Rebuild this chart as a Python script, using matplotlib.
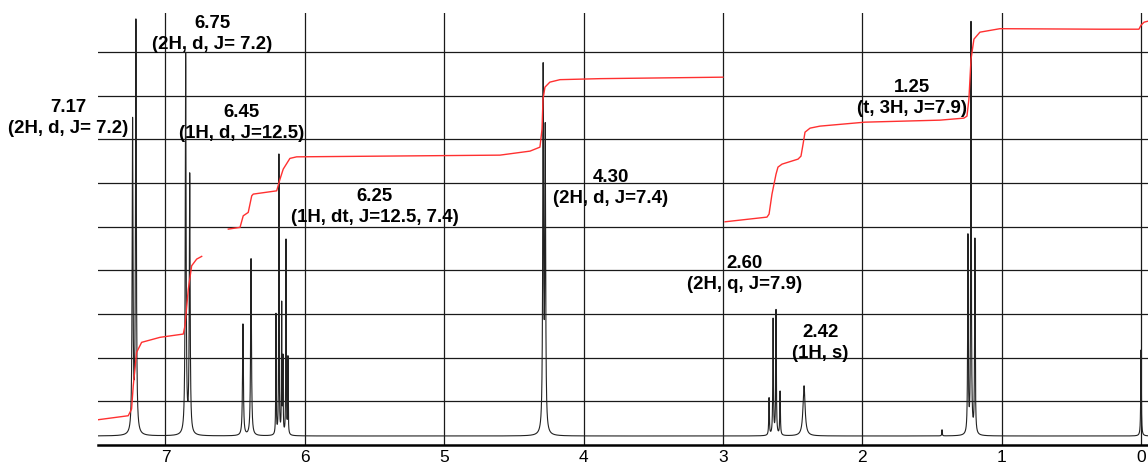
import numpy as np
import matplotlib
matplotlib.use('Agg')
import matplotlib.pyplot as plt

plt.rcParams['font.family'] = ['Liberation Sans', 'DejaVu Sans']

# peak list: shift (ppm), height (grid units), half width (ppm)
peak_ppm = [7.236, 7.212, 6.855, 6.826, 6.444, 6.386,
            6.207, 6.186, 6.166, 6.157, 6.135, 6.121,
            4.290, 4.275, 2.669, 2.640, 2.619, 2.590,
            2.418, 1.428, 1.242, 1.220, 1.192, 0.000]
peak_height = [7.1, 9.4, 8.7, 5.9, 2.55, 4.05,
               2.75, 6.4, 2.95, 1.7, 4.45, 1.75,
               8.2, 6.75, 0.85, 2.65, 2.85, 1.0,
               1.15, 0.14, 4.5, 9.4, 4.45, 1.97]
peak_hw = [0.0035, 0.0035, 0.0035, 0.0035, 0.0035, 0.0035,
           0.0018, 0.0018, 0.0018, 0.0018, 0.0018, 0.0018,
           0.0035, 0.0035, 0.0025, 0.0025, 0.0025, 0.0025,
           0.009, 0.002, 0.0025, 0.0025, 0.0025, 0.0025]
baseline = 0.206

# integral trace, three pieces (ppm, grid units)
int1_ppm = [7.482, 7.267, 7.243, 7.231, 7.207, 7.171, 7.039, 6.872, 6.860,
            6.836, 6.812, 6.776, 6.740]
int1_val = [0.579, 0.670, 0.824, 1.357, 2.121, 2.350, 2.465, 2.540, 2.730,
            3.570, 4.103, 4.256, 4.318]
int2_ppm = [6.549, 6.465, 6.442, 6.406, 6.381, 6.370, 6.202, 6.178, 6.155,
            6.107, 6.059, 4.600, 4.384, 4.313, 4.298, 4.291, 4.277, 4.242,
            4.169, 3.882, 3.000]
int2_val = [4.943, 4.982, 5.247, 5.325, 5.705, 5.744, 5.819, 6.087, 6.316,
            6.561, 6.597, 6.636, 6.728, 6.819, 7.231, 7.918, 8.192, 8.307,
            8.364, 8.387, 8.421]
int3_ppm = [2.985, 2.684, 2.669, 2.648, 2.619, 2.605, 2.576, 2.461, 2.440,
            2.425, 2.411, 2.375, 2.304, 1.981, 1.443, 1.271, 1.249, 1.235,
            1.220, 1.199, 1.156, 1.012, 0.295, 0.015, 0.000, -0.022, -0.050]
int3_val = [5.110, 5.217, 5.286, 5.744, 6.201, 6.362, 6.430, 6.545, 6.613,
            6.888, 7.162, 7.254, 7.300, 7.391, 7.437, 7.483, 7.529, 7.918,
            8.833, 9.291, 9.451, 9.531, 9.519, 9.519, 9.611, 9.680, 9.703]

labels = ['7.17\n(2H, d, J= 7.2)', '6.75\n(2H, d, J= 7.2)',
          '6.45\n(1H, d, J=12.5)', '6.25\n(1H, dt, J=12.5, 7.4)',
          '4.30\n(2H, d, J=7.4)', '2.60\n(2H, q, J=7.9)',
          '2.42\n(1H, s)', '1.25\n(t, 3H, J=7.9)']
label_xy = [(7.700, 7.506), (6.666, 9.428), (6.455, 7.391), (5.497, 5.469),
            (3.803, 5.904), (2.842, 3.936), (2.300, 2.357), (1.640, 7.963)]

# build the spectrum from the peak list (lorentzian lines)
x = np.linspace(7.49, -0.06, 60000)
y = np.full_like(x, baseline)
for p, h, w in zip(peak_ppm, peak_height, peak_hw):
    y += h * w**2 / ((x - p)**2 + w**2)

fig = plt.figure(figsize=(11.48, 4.64), dpi=100)
ax = fig.add_axes([98/1148, 18/464, 1 - 98/1148, 432/464])

ax.plot(x, y, color='#222222', lw=0.8, zorder=3)
for xs, ys in [(int1_ppm, int1_val), (int2_ppm, int2_val), (int3_ppm, int3_val)]:
    ax.plot(xs, ys, color='#ff3030', lw=1.0, zorder=4)

for txt, (tx, ty) in zip(labels, label_xy):
    ax.text(tx, ty, txt, ha='center', va='center', fontsize=13.4,
            fontweight='bold', linespacing=1.35, zorder=5)

ax.set_xlim(7.484, -0.050)
ax.set_ylim(0, 9.89)
ax.set_xticks(range(0, 8))
ax.set_yticks(range(1, 10))
ax.set_yticklabels([])
ax.tick_params(axis='both', length=0)
ax.tick_params(axis='x', pad=3, labelsize=12.5)
ax.grid(True, color='#1a1a1a', lw=0.9, zorder=0)
ax.set_axisbelow(True)
for s in ['left', 'right', 'top']:
    ax.spines[s].set_visible(False)
ax.spines['bottom'].set_linewidth(1.8)

fig.savefig('out.png', dpi=100)
